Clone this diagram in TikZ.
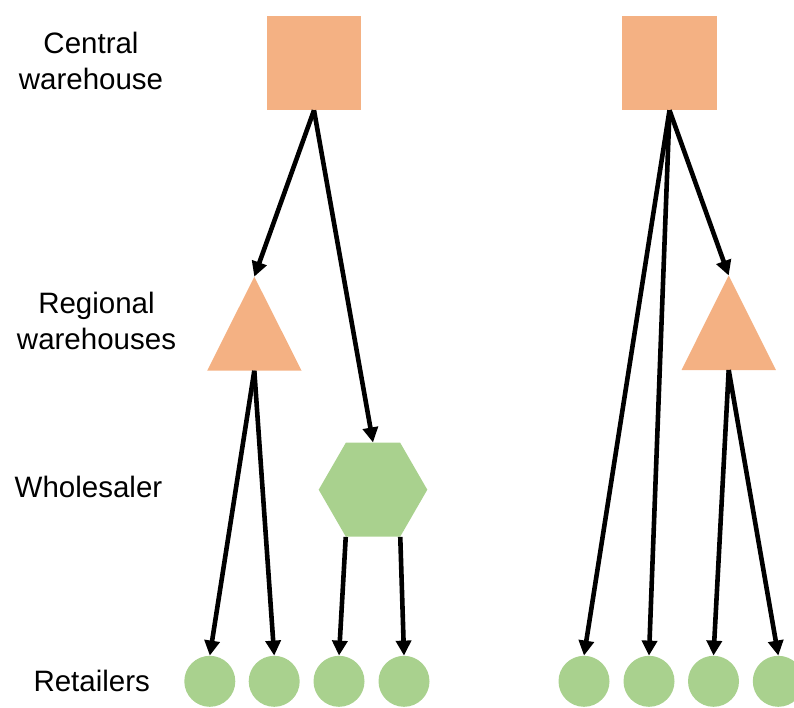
\documentclass[tikz,border=0pt]{standalone}
\usepackage{fontspec}
\setmainfont{Liberation Sans}
\usetikzlibrary{arrows.meta,shapes.geometric}
\definecolor{depot}{HTML}{F4B183}
\definecolor{shop}{HTML}{A9D18E}
\begin{document}
\begin{tikzpicture}[x=1pt,y=-1pt,
  lbl/.style={font=\fontsize{29.5}{36}\selectfont,align=center,anchor=base,inner sep=0pt},
  cw/.style={rectangle,fill=depot,minimum width=94.5pt,minimum height=94.5pt,inner sep=0pt},
  hub/.style={regular polygon,regular polygon sides=6,fill=shop,minimum size=108.6pt,inner sep=0pt},
  shopnode/.style={circle,fill=shop,minimum size=51pt,inner sep=0pt},
  tri/.style={fill=depot},
  flow/.style={line width=4.6pt,-{Triangle[length=15pt,width=15pt]}}]
\useasboundingbox (0,0) rectangle (794,707);

% level labels (anchor at the baseline of the last line)
\node[lbl] (tCentral) at (91,89.3) {Central\\warehouse};
\node[lbl] (tRegional) at (96.5,349.3) {Regional\\warehouses};
\node[lbl] (tWholesale) at (88.5,497.7) {Wholesaler};
\node[lbl] (tRetail) at (91.7,691.7) {Retailers};

% left network
\node[cw] (cwL) at (314,62.8) {};
\fill[tri] (254.3,276.7) -- (301.6,370.7) -- (207.2,370.7) -- cycle;
\coordinate (rwLtop) at (254.3,276.7);
\coordinate (rwLbot) at (254.3,370.7);
\node[hub] (ws) at (373,489.7) {};
\node[shopnode] (r1) at (209.8,681.3) {};
\node[shopnode] (r2) at (274.2,681.3) {};
\node[shopnode] (r3) at (339,681.3) {};
\node[shopnode] (r4) at (404,681.3) {};

% right network
\node[cw] (cwR) at (669.5,62.8) {};
\fill[tri] (728.7,275.5) -- (775.9,370) -- (681.5,370) -- cycle;
\coordinate (rwRtop) at (728.7,275.5);
\coordinate (rwRbot) at (728.7,370);
\node[shopnode] (r5) at (584,681.3) {};
\node[shopnode] (r6) at (649,681.3) {};
\node[shopnode] (r7) at (713.5,681.3) {};
\node[shopnode] (r8) at (778.3,681.3) {};

% flows, left
\draw[flow] (cwL.south) -- (rwLtop);
\draw[flow] (cwL.south) -- (ws.north);
\draw[flow] (rwLbot) -- (r1.north);
\draw[flow] (rwLbot) -- (r2.north);
\draw[flow] (ws.corner 4) -- (r3.north);
\draw[flow] (ws.corner 5) -- (r4.north);

% flows, right
\draw[flow] (cwR.south) -- (r5.north);
\draw[flow] (cwR.south) -- (r6.north);
\draw[flow] (cwR.south) -- (rwRtop);
\draw[flow] (rwRbot) -- (r7.north);
\draw[flow] (rwRbot) -- (r8.north);
\end{tikzpicture}
\end{document}
